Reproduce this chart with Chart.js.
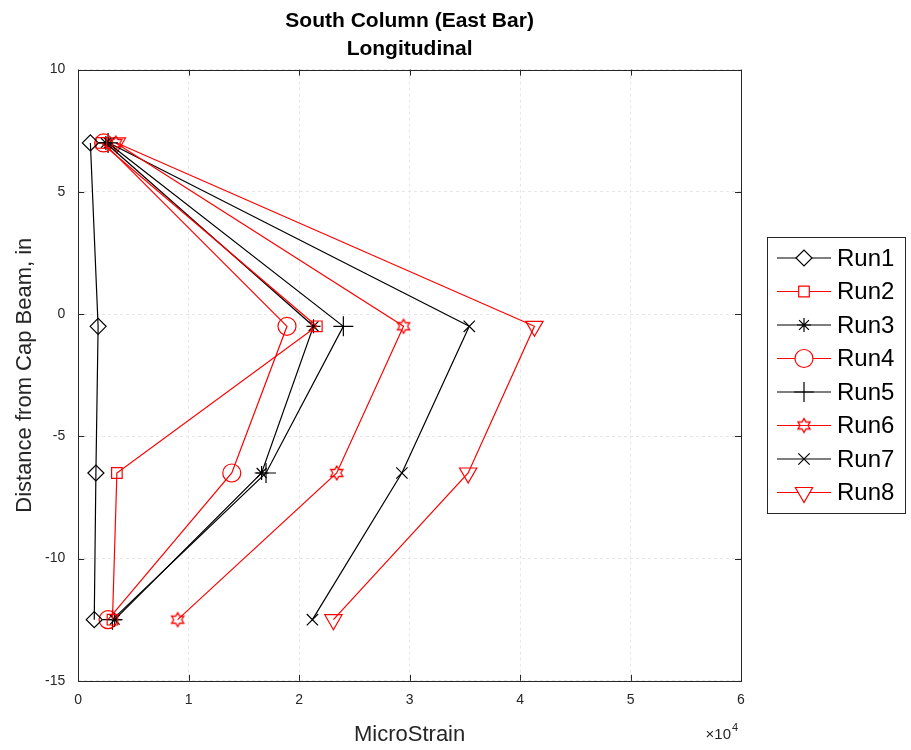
<!DOCTYPE html>
<html><head><meta charset="utf-8">
<script src="https://cdn.jsdelivr.net/npm/chart.js@4.4.1/dist/chart.umd.min.js"></script>
<style>html,body{margin:0;padding:0;background:#fff}#wrap{width:911px;height:750px}</style>
</head><body><div id="wrap"><canvas id="c" width="911" height="750"></canvas></div>
<script>
const depths = [7, -0.5, -6.5, -12.5];
const runNames = ['Run1','Run2','Run3','Run4','Run5','Run6','Run7','Run8'];
const run1 = [1100, 1800, 1600, 1450];
const run2 = [2100, 21600, 3500, 3100];
const run3 = [2500, 21300, 16600, 3300];
const run4 = [2300, 18900, 13900, 2700];
const run5 = [2700, 24000, 17000, 3100];
const run6 = [3400, 29450, 23400, 9000];
const run7 = [2800, 35400, 29300, 21200];
const run8 = [3500, 41300, 35300, 23100];
const xTicks = [0, 10000, 20000, 30000, 40000, 50000, 60000];
const yTicks = [-15, -10, -5, 0, 5, 10];
const yTitle = 'Distance from Cap Beam, in';

function hexagram(color, r){
  const cv = document.createElement('canvas');
  const s = Math.ceil(r*2+4); cv.width = s; cv.height = s;
  const g = cv.getContext('2d'); const c = s/2;
  g.strokeStyle = color; g.lineWidth = 1.3; g.beginPath();
  for (let i=0;i<12;i++){
    const a = -Math.PI/2 + i*Math.PI/6;
    const rr = (i%2===0)? r : r*0.58;
    const x = c + rr*Math.cos(a), y = c + rr*Math.sin(a);
    if(i===0) g.moveTo(x,y); else g.lineTo(x,y);
  }
  g.closePath(); g.stroke();
  return cv;
}
const RED = '#ff0000', BLK = '#000000';
const styles = [
  {c:BLK, p:'rectRot', r:8, rot:0},
  {c:RED, p:'rect', r:7.5, rot:0},
  {c:BLK, p:'star', r:7, rot:0},
  {c:RED, p:'circle', r:9, rot:0},
  {c:BLK, p:'cross', r:10, rot:0},
  {c:RED, p:hexagram(RED,7), r:7, rot:0},
  {c:BLK, p:'crossRot', r:8, rot:0},
  {c:RED, p:'triangle', r:10, rot:180}
];
const series = [run1,run2,run3,run4,run5,run6,run7,run8];
const datasets = series.map((arr,i)=>({
  label: runNames[i],
  data: arr.map((v,j)=>({x:v, y:depths[j]})),
  showLine: true,
  borderColor: styles[i].c,
  backgroundColor: 'rgba(0,0,0,0)',
  pointBorderColor: styles[i].c,
  pointBackgroundColor: 'rgba(0,0,0,0)',
  borderWidth: 1.2,
  pointBorderWidth: 1.2,
  pointStyle: styles[i].p,
  pointRadius: styles[i].r,
  pointRotation: styles[i].rot,
  pointHoverRadius: styles[i].r,
  fill: false,
  tension: 0
}));

const FONT = '"Liberation Sans", Arial, sans-serif';

const deco = {
  id:'deco',
  afterDraw(chart){
    const {ctx, chartArea:a, scales} = chart;
    ctx.save();
    ctx.strokeStyle = '#262626'; ctx.lineWidth = 1;
    ctx.strokeRect(Math.round(a.left)+0.5, Math.round(a.top)+0.5, Math.round(a.right-a.left), Math.round(a.bottom-a.top));
    ctx.beginPath();
    xTicks.forEach(v=>{const x=Math.round(scales.x.getPixelForValue(v))+0.5;
      ctx.moveTo(x,a.bottom); ctx.lineTo(x,a.bottom-6); ctx.moveTo(x,a.top); ctx.lineTo(x,a.top+6);});
    yTicks.forEach(v=>{const y=Math.round(scales.y.getPixelForValue(v))+0.5;
      ctx.moveTo(a.left,y); ctx.lineTo(a.left+6,y); ctx.moveTo(a.right,y); ctx.lineTo(a.right-6,y);});
    ctx.stroke();
    // y title
    ctx.save();
    ctx.translate(25, (a.top+a.bottom)/2);
    ctx.rotate(-Math.PI/2);
    ctx.fillStyle = '#262626'; ctx.font = '22px '+FONT; ctx.textAlign='center'; ctx.textBaseline='middle';
    ctx.fillText(yTitle, 0, 0);
    ctx.restore();
    // exponent
    ctx.fillStyle = '#262626'; ctx.font = '15px '+FONT; ctx.textAlign='right'; ctx.textBaseline='alphabetic';
    ctx.fillText('\u00d710', a.right-10, a.bottom+58);
    ctx.font = '11px '+FONT; ctx.textAlign='left';
    ctx.fillText('4', a.right-9, a.bottom+50);
    // legend
    const lx = 767, ly = 237, lw = 138, lh = 276;
    ctx.fillStyle = '#fff'; ctx.fillRect(lx,ly,lw,lh);
    ctx.strokeStyle = '#262626'; ctx.lineWidth = 1;
    ctx.strokeRect(lx+0.5, ly+0.5, lw, lh);
    const rowH = 33.5;
    chart.data.datasets.forEach((ds,i)=>{
      const cy = ly + 21 + i*rowH;
      ctx.strokeStyle = ds.borderColor; ctx.lineWidth = 1.2;
      ctx.beginPath(); ctx.moveTo(lx+10, cy); ctx.lineTo(lx+64, cy); ctx.stroke();
      ctx.fillStyle = '#ffffff';
      Chart.helpers.drawPoint(ctx, {pointStyle: ds.pointStyle, radius: ds.pointRadius, rotation: ds.pointRotation, borderWidth: 1.2}, lx+37, cy);
      ctx.fillStyle = '#000'; ctx.font = '24px '+FONT; ctx.textAlign='left'; ctx.textBaseline='middle';
      ctx.fillText(ds.label, lx+70, cy+1);
    });
    ctx.restore();
  }
};

new Chart(document.getElementById('c'), {
  type: 'scatter',
  data: { datasets },
  options: {
    responsive: false, animation: false, devicePixelRatio: 1,
    layout: { padding: { left: 32, right: 170, top: 8, bottom: 2 } },
    plugins: {
      legend: { display: false },
      tooltip: { enabled: false },
      title: { display: true, text: ['South Column (East Bar)','Longitudinal'], fullSize: false,
        color: '#000', font: { family: FONT, size: 21, weight: 'bold', lineHeight: 1.3 }, padding: { top: 0, bottom: 7 } }
    },
    scales: {
      x: { type: 'linear', min: 0, max: 60000,
        afterBuildTicks: s => { s.ticks = xTicks.map(v=>({value:v})); },
        ticks: { color: '#262626', font: { family: FONT, size: 14 }, callback: v => String(v/10000), padding: 11 },
        grid: { color: '#e6e6e6', drawTicks: false, lineWidth: 1 },
        border: { display: false, dash: [3, 3] },
        title: { display: true, text: 'MicroStrain', color: '#262626', font: { family: FONT, size: 22 }, padding: { top: 2, bottom: 0 } }
      },
      y: { type: 'linear', min: -15, max: 10,
        afterBuildTicks: s => { s.ticks = yTicks.map(v=>({value:v})); },
        ticks: { color: '#262626', font: { family: FONT, size: 14 }, padding: 13 },
        grid: { color: '#e6e6e6', drawTicks: false, lineWidth: 1 },
        border: { display: false, dash: [3, 3] },
        title: { display: false }
      }
    }
  },
  plugins: [deco]
});
</script></body></html>
